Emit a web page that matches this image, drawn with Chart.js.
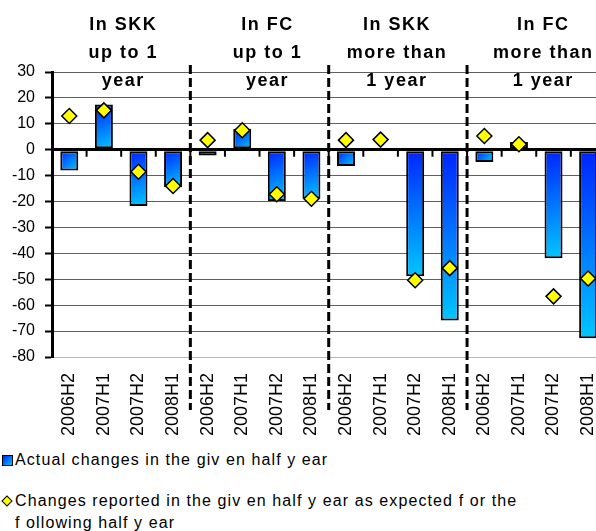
<!DOCTYPE html>
<html>
<head>
<meta charset="utf-8">
<script src="https://cdn.jsdelivr.net/npm/chart.js@4"></script>
<style>
  html, body { margin: 0; padding: 0; background: #fff; overflow: hidden; width: 596px; height: 531px; }
  #wrap { position: absolute; left: 0; top: 0; width: 626px; height: 440px; }
  .leg { position: absolute; left: 15px; font: 16px "Liberation Sans", Arial, sans-serif; letter-spacing: 1.1px; color: #000; white-space: nowrap; line-height: 22px; }
  .sq { position: absolute; left: 2px; top: 455px; width: 9px; height: 9px; border: 1px solid #000; background: linear-gradient(135deg, #0022ff, #00c8ff); }
  .dm { position: absolute; left: 3px; top: 497px; width: 6px; height: 6px; border: 1px solid #000; background: #ffff00; transform: rotate(45deg); }
</style>
</head>
<body>
<div id="wrap"><canvas id="chart"></canvas></div>
<div class="sq"></div>
<div class="leg" style="top:449px">Actual changes in the giv en half y ear</div>
<div class="dm"></div>
<div class="leg" style="top:490px">Changes reported in the giv en half y ear as expected f or the<br>f ollowing half y ear</div>
<script>
var categories = ['2006H2', '2007H1', '2007H2', '2008H1',
                  '2006H2', '2007H1', '2007H2', '2008H1',
                  '2006H2', '2007H1', '2007H2', '2008H1',
                  '2006H2', '2007H1', '2007H2', '2008H1'];
var actualChanges = [-8, 17.5, -21.7, -14.5,
                     -2.2, 8.1, -19.8, -18.9,
                     -6.3, 0.5, -48.8, -65.9,
                     -4.7, 3.0, -41.9, -72.8];
var expectedChanges = [13, 15.2, -8.5, -14,
                       3.7, 7.5, -17.2, -18.9,
                       3.7, 3.9, -50.4, -45.7,
                       5.3, 2.1, -56.6, -49.7];
var groupTitles = [['In SKK', 'up to 1', 'year'],
                   ['In FC', 'up to 1', 'year'],
                   ['In SKK', 'more than', '1 year'],
                   ['In FC', 'more than', '1 year']];
var yMin = -80, yMax = 30, yStep = 10;

var FONT = '"Liberation Sans", Arial, sans-serif';

function barFill(context) {
    var chart = context.chart;
    var xs = chart.scales.x, ys = chart.scales.y;
    if (!xs || !ys || context.raw === undefined) return '#0080ff';
    var cx = xs.getPixelForValue(context.dataIndex);
    var half = xs.width / categories.length * 0.26;
    var a = ys.getPixelForValue(0), b = ys.getPixelForValue(context.raw);
    if (![cx, half, a, b].every(isFinite)) return '#0080ff';
    var g = chart.ctx.createLinearGradient(cx - half, Math.min(a, b), cx + half, Math.max(a, b));
    g.addColorStop(0, '#0022ff');
    g.addColorStop(1, '#00c8ff');
    return g;
}

// group separators, tick marks on the zero line and the group titles
var decorations = {
    id: 'decorations',
    afterDraw: function (chart) {
        var ctx = chart.ctx, xs = chart.scales.x, ys = chart.scales.y;
        var step = xs.getPixelForValue(1) - xs.getPixelForValue(0);
        var y0 = ys.getPixelForValue(0);
        ctx.save();
        // ticks under the zero line
        ctx.strokeStyle = '#000';
        ctx.lineWidth = 2;
        for (var i = 1; i < categories.length; i++) {
            var bx = xs.getPixelForValue(i) - step / 2;
            ctx.beginPath();
            ctx.moveTo(bx, y0);
            ctx.lineTo(bx, y0 + 7);
            ctx.stroke();
        }
        // dashed separators
        ctx.lineWidth = 3;
        ctx.setLineDash([9, 4]);
        for (var g = 1; g < groupTitles.length; g++) {
            var sx = xs.getPixelForValue(g * 4) - step / 2;
            ctx.beginPath();
            ctx.moveTo(sx, chart.chartArea.top - 7);
            ctx.lineTo(sx, chart.chartArea.bottom + 53);
            ctx.stroke();
        }
        ctx.setLineDash([]);
        // titles
        var nudge = [2, 8, -1, 7];
        ctx.font = 'bold 18px ' + FONT;
        ctx.letterSpacing = '1.5px';
        ctx.fillStyle = '#000';
        ctx.textAlign = 'center';
        ctx.textBaseline = 'middle';
        groupTitles.forEach(function (lines, gi) {
            var cx = xs.getPixelForValue(gi * 4 + 1.5) + nudge[gi];
            lines.forEach(function (t, li) {
                ctx.fillText(t, cx, 25 + li * 28);
            });
        });
        ctx.restore();
    }
};

new Chart(document.getElementById('chart'), {
    type: 'bar',
    data: {
        labels: categories,
        datasets: [{
            type: 'line',
            label: 'Changes reported in the given half year as expected for the following half year',
            data: expectedChanges,
            showLine: false,
            pointStyle: 'rectRot',
            pointRadius: 7.5,
            pointHoverRadius: 7.5,
            pointBackgroundColor: '#ffff00',
            pointBorderColor: '#000',
            pointBorderWidth: 1.5,
            order: 0
        }, {
            type: 'bar',
            label: 'Actual changes in the given half year',
            data: actualChanges,
            backgroundColor: barFill,
            borderColor: '#000',
            borderWidth: 2,
            borderSkipped: false,
            barPercentage: 0.52,
            categoryPercentage: 1,
            order: 1
        }]
    },
    options: {
        responsive: true,
        maintainAspectRatio: false,
        animation: false,
        layout: { padding: { top: 72, left: 0, right: 0, bottom: 0 } },
        plugins: {
            legend: { display: false },
            tooltip: { enabled: false }
        },
        scales: {
            x: {
                grid: { display: false, drawTicks: false },
                border: { display: false },
                ticks: {
                    color: '#000',
                    font: { family: FONT, size: 18 },
                    minRotation: 90,
                    maxRotation: 90,
                    padding: 16,
                    autoSkip: false
                },
                afterFit: function (scale) { scale.height = 83; }
            },
            y: {
                min: yMin,
                max: yMax,
                border: { display: true, color: '#000', width: 3 },
                grid: {
                    color: function (c) {
                        if (c.tick.value === 0) return '#000';
                        if (c.tick.value === yMin) return '#b8b8b8';
                        return '#606060';
                    },
                    lineWidth: function (c) { return c.tick.value === 0 ? 3 : 1; },
                    tickColor: '#000',
                    tickWidth: 2,
                    tickLength: 7
                },
                ticks: {
                    stepSize: yStep,
                    color: '#000',
                    font: { family: FONT, size: 16 },
                    padding: 10
                },
                afterFit: function (scale) { scale.width = 52; }
            }
        }
    },
    plugins: [decorations]
});
</script>
</body>
</html>
